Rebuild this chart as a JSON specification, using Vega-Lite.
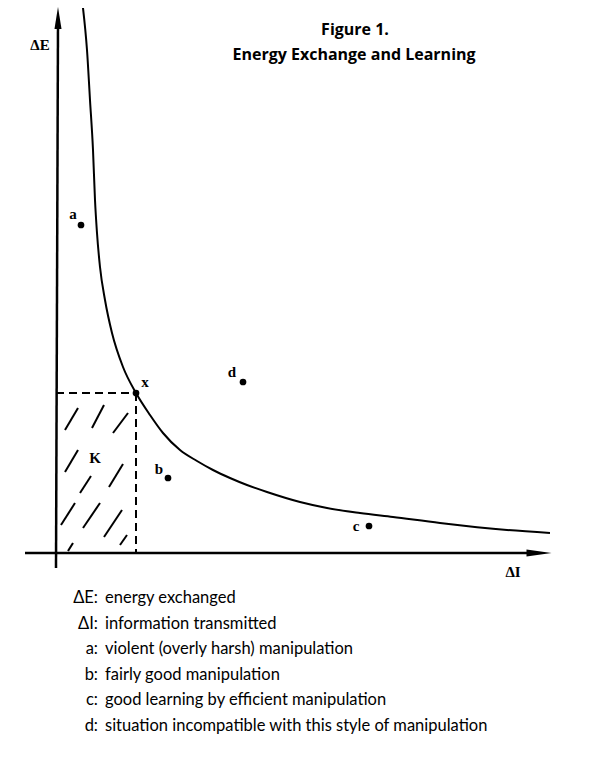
{
  "$schema": "https://vega.github.io/schema/vega-lite/v6.json",
  "width": 600,
  "height": 768,
  "autosize": {"type": "fit", "contains": "padding"},
  "padding": 0,
  "background": "white",
  "config": {"view": {"stroke": null}},
  "encoding": {
    "x": {"field": "x", "type": "quantitative", "scale": {"domain": [-56, 544], "nice": false, "zero": false}, "axis": null},
    "y": {"field": "y", "type": "quantitative", "scale": {"domain": [-215, 553], "nice": false, "zero": false}, "axis": null}
  },
  "layer": [
    {
      "data": {"values": [
        {"x": 0, "y": -15, "x2": 2, "y2": 530},
        {"x": -31, "y": 0, "x2": 474, "y2": 0}
      ]},
      "mark": {"type": "rule", "color": "black", "strokeWidth": 2.5},
      "encoding": {"x2": {"field": "x2"}, "y2": {"field": "y2"}}
    },
    {
      "data": {"values": [{"x": 2, "y": 535}]},
      "mark": {"type": "point", "filled": true, "opacity": 1, "color": "black", "shape": "M0,-1L0.32,1L-0.32,1Z", "size": 484}
    },
    {
      "data": {"values": [{"x": 483, "y": 0}]},
      "mark": {"type": "point", "filled": true, "opacity": 1, "color": "black", "shape": "M1,0L-1,0.28L-1,-0.28Z", "size": 625}
    },
    {
      "data": {"values": [
        {"i": 1, "x": 27, "y": 545}, {"i": 2, "x": 31, "y": 503}, {"i": 3, "x": 34, "y": 453},
        {"i": 4, "x": 37, "y": 403}, {"i": 5, "x": 39, "y": 353}, {"i": 6, "x": 41, "y": 320},
        {"i": 7, "x": 44, "y": 286}, {"i": 8, "x": 49, "y": 253}, {"i": 9, "x": 56, "y": 220},
        {"i": 10, "x": 67, "y": 186}, {"i": 11, "x": 80, "y": 160}, {"i": 12, "x": 94, "y": 138},
        {"i": 13, "x": 107, "y": 120}, {"i": 14, "x": 124, "y": 103}, {"i": 15, "x": 141, "y": 92},
        {"i": 16, "x": 157, "y": 83}, {"i": 17, "x": 174, "y": 75}, {"i": 18, "x": 191, "y": 68},
        {"i": 19, "x": 211, "y": 61}, {"i": 20, "x": 244, "y": 51}, {"i": 21, "x": 271, "y": 45},
        {"i": 22, "x": 304, "y": 40}, {"i": 23, "x": 337, "y": 36}, {"i": 24, "x": 384, "y": 30},
        {"i": 25, "x": 451, "y": 23}, {"i": 26, "x": 494, "y": 20}
      ]},
      "mark": {"type": "line", "color": "black", "strokeWidth": 2, "interpolate": "monotone"},
      "encoding": {"order": {"field": "i", "type": "quantitative"}}
    },
    {
      "data": {"values": [
        {"x": 0, "y": 160, "x2": 80, "y2": 160},
        {"x": 80, "y": 160, "x2": 80, "y2": 0}
      ]},
      "mark": {"type": "rule", "color": "black", "strokeWidth": 2, "strokeDash": [8, 5]},
      "encoding": {"x2": {"field": "x2"}, "y2": {"field": "y2"}}
    },
    {
      "data": {"values": [
        {"x": 9, "y": 123, "x2": 22, "y2": 145},
        {"x": 36, "y": 125, "x2": 48, "y2": 148},
        {"x": 57, "y": 120, "x2": 72, "y2": 140},
        {"x": 9, "y": 81, "x2": 22, "y2": 103},
        {"x": 24, "y": 60, "x2": 35, "y2": 77},
        {"x": 53, "y": 66, "x2": 67, "y2": 89},
        {"x": 5, "y": 28, "x2": 19, "y2": 50},
        {"x": 27, "y": 25, "x2": 44, "y2": 50},
        {"x": 48, "y": 16, "x2": 66, "y2": 43},
        {"x": 12, "y": 2, "x2": 17, "y2": 10},
        {"x": 64, "y": 8, "x2": 71, "y2": 18}
      ]},
      "mark": {"type": "rule", "color": "black", "strokeWidth": 2},
      "encoding": {"x2": {"field": "x2"}, "y2": {"field": "y2"}}
    },
    {
      "data": {"values": [
        {"name": "a", "x": 25, "y": 328},
        {"name": "b", "x": 112, "y": 75},
        {"name": "c", "x": 313, "y": 27},
        {"name": "d", "x": 187, "y": 171},
        {"name": "x", "x": 80, "y": 160}
      ]},
      "mark": {"type": "circle", "color": "black", "opacity": 1, "size": 45}
    },
    {
      "data": {"values": [
        {"label": "a", "x": 17, "y": 339},
        {"label": "b", "x": 103, "y": 84},
        {"label": "c", "x": 300, "y": 27},
        {"label": "d", "x": 176, "y": 181},
        {"label": "x", "x": 89, "y": 171},
        {"label": "K", "x": 39, "y": 95},
        {"label": "ΔE", "x": -16, "y": 508},
        {"label": "ΔI", "x": 457, "y": -19}
      ]},
      "mark": {"type": "text", "font": "Liberation Serif", "fontWeight": "bold", "fontSize": 15, "color": "black", "align": "center", "baseline": "middle"},
      "encoding": {"text": {"field": "label"}}
    },
    {
      "data": {"values": [
        {"label": "Figure 1.", "x": 299, "y": 523},
        {"label": "Energy Exchange and Learning", "x": 298, "y": 498}
      ]},
      "mark": {"type": "text", "font": "Open Sans", "fontWeight": "bold", "fontSize": 16, "color": "black", "align": "center", "baseline": "middle"},
      "encoding": {"text": {"field": "label"}}
    },
    {
      "data": {"values": [
        {"label": "ΔE:", "x": 42, "y": -45},
        {"label": "ΔI:", "x": 42, "y": -71},
        {"label": "a:", "x": 42, "y": -96},
        {"label": "b:", "x": 42, "y": -122},
        {"label": "c:", "x": 42, "y": -147},
        {"label": "d:", "x": 42, "y": -173}
      ]},
      "mark": {"type": "text", "font": "Lato", "fontSize": 16.5, "color": "black", "align": "right", "baseline": "middle"},
      "encoding": {"text": {"field": "label"}}
    },
    {
      "data": {"values": [
        {"label": "energy exchanged", "x": 49, "y": -45},
        {"label": "information transmitted", "x": 49, "y": -71},
        {"label": "violent (overly harsh) manipulation", "x": 49, "y": -96},
        {"label": "fairly good manipulation", "x": 49, "y": -122},
        {"label": "good learning by efficient manipulation", "x": 49, "y": -147},
        {"label": "situation incompatible with this style of manipulation", "x": 49, "y": -173}
      ]},
      "mark": {"type": "text", "font": "Lato", "fontSize": 16.5, "color": "black", "align": "left", "baseline": "middle"},
      "encoding": {"text": {"field": "label"}}
    }
  ]
}
